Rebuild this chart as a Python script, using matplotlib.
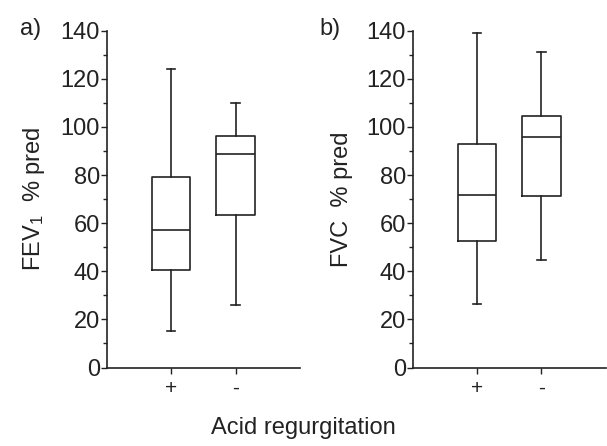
import matplotlib
matplotlib.use('Agg')
import matplotlib.pyplot as plt
from matplotlib.ticker import MultipleLocator

# values (whisker low, Q1, median, Q3, whisker high)
groups = ['+', '-']
fev1_low = [15.0, 26.0]
fev1_q1 = [40.5, 63.6]
fev1_med = [57.0, 88.7]
fev1_q3 = [79.0, 96.4]
fev1_high = [124.2, 109.9]

fvc_low = [26.2, 44.5]
fvc_q1 = [52.6, 71.5]
fvc_med = [71.8, 95.7]
fvc_q3 = [93.0, 104.6]
fvc_high = [138.9, 131.2]

plt.rcParams['font.family'] = ['Liberation Sans', 'DejaVu Sans']
plt.rcParams['mathtext.fontset'] = 'custom'
plt.rcParams['mathtext.rm'] = 'Liberation Sans'
plt.rcParams['mathtext.it'] = 'Liberation Sans'

ink = '#222222'
fig = plt.figure(figsize=(6.07, 4.46), dpi=100)


def panel(rect, low, q1, med, q3, high, ylabel, tag, tagx):
    ax = fig.add_axes(rect)
    stats = []
    for i in range(len(groups)):
        stats.append({'whislo': low[i], 'q1': q1[i], 'med': med[i],
                      'q3': q3[i], 'whishi': high[i], 'fliers': []})
    lp = dict(color=ink, linewidth=1.2)
    ax.bxp(stats, positions=[1, 2], widths=0.6, capwidths=0.13, showfliers=False,
           boxprops=lp, whiskerprops=lp, capprops=lp, medianprops=lp)
    ax.set_xlim(0, 3)
    ax.set_ylim(0, 140)
    ax.set_xticks([1, 2])
    ax.set_xticklabels(groups, fontsize=15)
    ax.yaxis.set_major_locator(MultipleLocator(20))
    ax.yaxis.set_minor_locator(MultipleLocator(10))
    ax.tick_params(axis='y', which='major', labelsize=17, length=4, width=1, color=ink, labelcolor=ink, pad=1)
    ax.tick_params(axis='y', which='minor', length=3, width=1, color=ink)
    ax.tick_params(axis='x', length=4, width=1, color=ink, labelcolor=ink, pad=4)
    for s in ['top', 'right']:
        ax.spines[s].set_visible(False)
    for s in ['left', 'bottom']:
        ax.spines[s].set_color(ink)
        ax.spines[s].set_linewidth(1.2)
    ax.set_ylabel(ylabel, fontsize=17, color=ink, labelpad=10)
    fig.text(tagx, 0.935, tag, fontsize=17, color=ink, ha='left', va='center')
    return ax


ax1 = panel([0.176, 0.176, 0.318, 0.755], fev1_low, fev1_q1, fev1_med, fev1_q3, fev1_high,
            'FEV$_1$  % pred', 'a)', 0.033)
ax2 = panel([0.680, 0.176, 0.318, 0.755], fvc_low, fvc_q1, fvc_med, fvc_q3, fvc_high,
            'FVC  % pred', 'b)', 0.527)

fig.text(0.5, 0.04, 'Acid regurgitation', fontsize=17, color=ink, ha='center', va='center')

fig.savefig('out.png', dpi=100)
